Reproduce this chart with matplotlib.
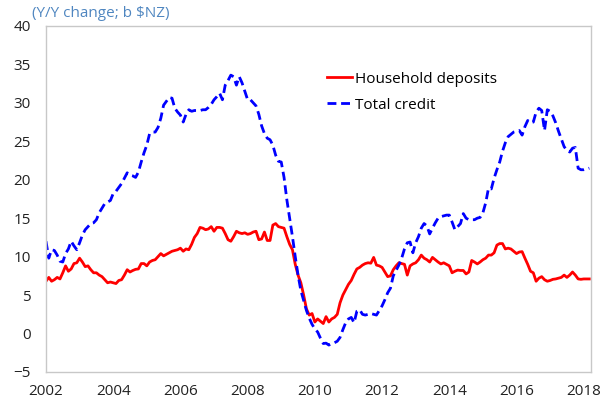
import numpy as np
import matplotlib.pyplot as plt

plt.rcParams['font.family'] = ['Open Sans', 'DejaVu Sans']

# monthly data, Jan 2002 - Mar 2018 (Y/Y change, b $NZ)
household_deposits = [
    6.8, 7.3, 6.8, 7.0, 7.3, 7.1, 7.9, 8.8, 8.1, 8.4, 9.1, 9.2,          # 2002
    9.8, 9.3, 8.7, 8.8, 8.3, 7.9, 7.9, 7.6, 7.4, 7.0, 6.6, 6.7,          # 2003
    6.6, 6.5, 6.9, 7.0, 7.6, 8.3, 8.0, 8.2, 8.35, 8.4, 9.1, 9.1,         # 2004
    8.8, 9.3, 9.5, 9.6, 10.0, 10.4, 10.1, 10.3, 10.5, 10.7, 10.8, 10.9,  # 2005
    11.1, 10.7, 11.0, 10.9, 11.6, 12.5, 13.0, 13.8, 13.7, 13.5, 13.6, 13.9,  # 2006
    13.3, 13.8, 13.8, 13.7, 13.0, 12.2, 12.0, 12.6, 13.3, 13.1, 13.0, 13.1,  # 2007
    12.9, 13.0, 13.2, 13.3, 12.2, 12.3, 13.2, 12.1, 12.1, 14.1, 14.3, 13.9,  # 2008
    13.8, 13.7, 12.6, 11.6, 10.9, 9.0, 7.6, 6.6, 5.0, 3.2, 2.4, 2.6,     # 2009
    1.5, 1.9, 1.6, 1.3, 2.2, 1.5, 1.9, 2.1, 2.5, 4.0, 5.0, 5.7,          # 2010
    6.4, 6.9, 7.7, 8.4, 8.6, 8.9, 9.1, 9.2, 9.15, 9.9, 8.9, 8.8,         # 2011
    8.6, 8.0, 7.4, 7.5, 8.3, 8.8, 9.2, 9.1, 9.0, 7.6, 8.8, 9.05,         # 2012
    9.2, 9.6, 10.2, 9.8, 9.6, 9.3, 9.9, 9.6, 9.3, 9.05, 9.2, 9.0,        # 2013
    8.8, 7.9, 8.1, 8.25, 8.2, 8.2, 7.75, 8.0, 9.5, 9.3, 9.05, 9.3,       # 2014
    9.6, 9.8, 10.2, 10.2, 10.5, 11.5, 11.7, 11.7, 11.0, 11.1, 11.0, 10.7,  # 2015
    10.4, 10.6, 10.65, 9.8, 9.0, 8.1, 7.9, 6.8, 7.2, 7.4, 7.0, 6.8,      # 2016
    6.9, 7.05, 7.1, 7.2, 7.3, 7.6, 7.3, 7.6, 8.0, 7.6, 7.1, 7.05,        # 2017
    7.1, 7.1, 7.1,                                                        # 2018
]
total_credit = [
    12.0, 9.8, 10.9, 10.8, 10.2, 9.4, 9.3, 10.4, 11.0, 12.0, 11.4, 10.9,     # 2002
    11.8, 12.8, 13.5, 13.9, 14.3, 14.4, 14.8, 15.7, 16.3, 16.9, 17.1, 17.3,  # 2003
    18.2, 18.5, 19.0, 19.5, 20.2, 20.9, 20.6, 20.5, 20.3, 21.0, 22.3, 23.5,  # 2004
    24.5, 26.0, 26.2, 26.2, 26.8, 28.0, 29.7, 30.2, 30.7, 30.6, 29.3, 28.8,  # 2005
    28.4, 27.5, 28.5, 29.1, 28.9, 29.0, 29.0, 29.0, 29.1, 29.1, 29.4, 29.8,  # 2006
    30.4, 30.8, 31.25, 30.4, 32.3, 32.9, 33.6, 33.4, 32.3, 33.4, 32.6, 31.5,  # 2007
    30.4, 30.4, 30.0, 29.6, 28.5, 27.0, 26.0, 25.4, 25.2, 24.5, 23.2, 22.4,  # 2008
    22.3, 20.3, 17.4, 15.0, 12.6, 10.0, 7.6, 5.6, 4.3, 3.0, 2.0, 1.2,        # 2009
    0.6, 0.2, -0.6, -1.3, -1.25, -1.5, -1.3, -1.2, -1.0, -0.5, 0.5, 1.4,     # 2010
    1.9, 2.1, 1.4, 2.9, 3.1, 2.5, 2.4, 2.5, 2.6, 2.5, 2.4, 3.0,              # 2011
    3.6, 4.4, 5.3, 5.9, 7.5, 8.2, 8.9, 9.8, 11.0, 11.8, 11.9, 10.5,          # 2012
    11.8, 12.6, 13.7, 14.3, 14.0, 12.95, 13.7, 14.4, 15.0, 15.2, 15.3, 15.4,  # 2013
    15.4, 14.5, 13.5, 13.9, 14.3, 15.6, 15.0, 14.8, 14.8, 14.8, 15.0, 15.1,  # 2014
    15.7, 17.0, 18.9, 18.8, 20.2, 21.3, 22.3, 23.7, 24.8, 25.6, 25.9, 26.2,  # 2015
    26.3, 26.4, 25.8, 26.9, 27.7, 27.4, 27.5, 28.8, 29.3, 29.0, 26.4, 29.1,  # 2016
    28.9, 28.3, 27.4, 26.3, 25.3, 24.3, 23.8, 23.6, 24.1, 24.2, 21.5, 21.3,  # 2017
    21.3, 21.4, 21.5,                                                         # 2018
]
years = 2002 + np.arange(len(household_deposits)) / 12
year_ticks = list(range(2002, 2019, 2))
value_ticks = list(range(-5, 41, 5))

fig = plt.figure(figsize=(6.01, 4.05), dpi=100)
ax = fig.add_axes([0.0765, 0.0815, 0.9065, 0.8545])

ax.plot(years, household_deposits, color='#ff0000', lw=2.0,
        label='Household deposits')
ax.plot(years, total_credit, color='#0000ff', lw=2.0,
        linestyle=(0, (3.2, 1.7)), label='Total credit')

ax.set_xlim(2002, 2018.21)
ax.set_ylim(-5, 40)
ax.set_xticks(year_ticks)
ax.set_yticks(value_ticks)
ax.tick_params(length=0, labelsize=11, colors='#222222')
ax.tick_params(axis='y', pad=11)
ax.tick_params(axis='x', pad=9)
for s in ax.spines.values():
    s.set_color('#c8c8c8')
    s.set_linewidth(1.0)

fig.text(0.053, 0.967, '(Y/Y change; b $NZ)', color='#4f86c0',
         fontsize=11, va='center', ha='left')

ax.legend(loc='upper left', bbox_to_anchor=(0.505, 0.885), frameon=False,
          fontsize=11, handlelength=1.65, handletextpad=0.15,
          labelspacing=0.7, borderaxespad=0)

plt.savefig('out.png', dpi=100)
